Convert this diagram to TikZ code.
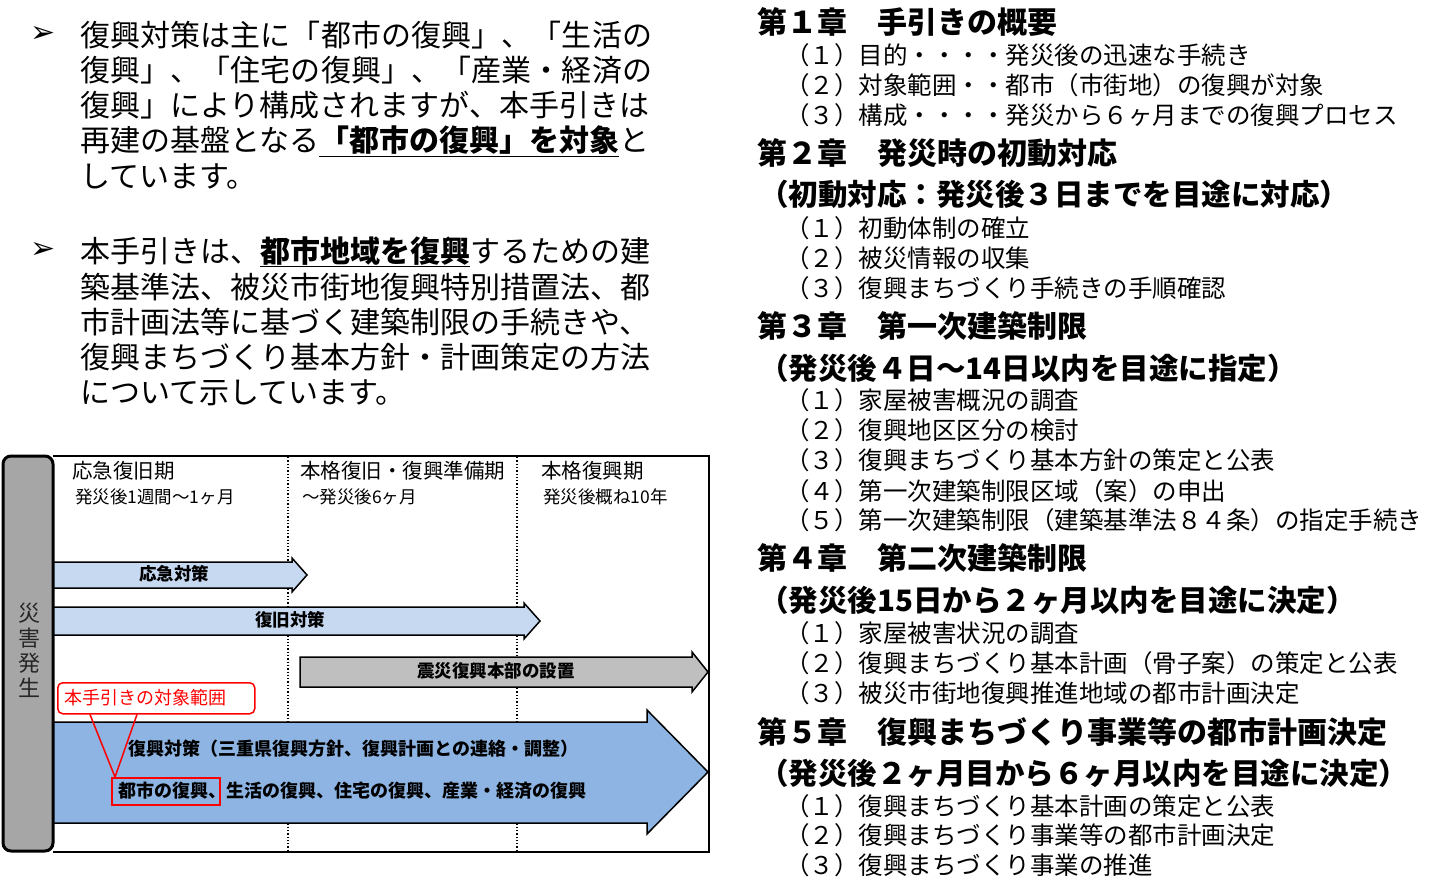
\documentclass[tikz,border=0pt]{standalone}
\usepackage{fontspec}
\setmainfont{Noto Sans CJK JP}
\newfontfamily\symfont{DejaVu Sans}
\usetikzlibrary{calc}
\makeatletter
\newcommand\spreadtxt[2]{\makebox[#1][s]{\def\spsep{}\@tfor\spc:=#2\do{\spsep\spc\def\spsep{\hfil}}}}
\makeatother
\definecolor{lblue}{HTML}{C6D9F1}
\definecolor{mblue}{HTML}{8DB4E2}
\definecolor{garrow}{HTML}{BFBFBF}
\definecolor{gpanel}{HTML}{A6A6A6}
\definecolor{cred}{HTML}{FF0000}
\begin{document}
\begin{tikzpicture}[x=1pt,y=-1pt,
  txt/.style={anchor=west,inner sep=0pt},
  ctxt/.style={inner sep=0pt},
  bul/.style={inner sep=0pt,font=\symfont\fontsize{30pt}{30pt}\selectfont},
  sA/.style={font=\fontsize{30pt}{36pt}\selectfont,text height=26.4pt,text depth=3.6pt},
  sH/.style={font=\fontsize{30pt}{36pt}\selectfont\bfseries,text height=26.4pt,text depth=3.6pt},
  sP/.style={font=\fontsize{29.5pt}{36pt}\selectfont\bfseries,text height=26pt,text depth=3.5pt},
  sI/.style={font=\fontsize{24.5pt}{30pt}\selectfont,text height=21.6pt,text depth=2.9pt},
  sT/.style={font=\fontsize{20.5pt}{24pt}\selectfont,text height=18pt,text depth=2.5pt},
  sS/.style={font=\fontsize{17.5pt}{20pt}\selectfont,text height=15.4pt,text depth=2.1pt},
  sB/.style={font=\fontsize{17.5pt}{20pt}\selectfont\bfseries,text height=15.4pt,text depth=2.1pt},
  sBB/.style={font=\fontsize{18pt}{22pt}\selectfont\bfseries,text height=15.8pt,text depth=2.2pt},
  arr/.style={draw=black,line width=1.5pt,line join=miter},
  redl/.style={draw=cred,line width=1.5pt},
  dots/.style={black,line width=1.3pt,dotted}]
\useasboundingbox (0,0) rectangle (1448,887);

% ---------------- left text ----------------
\node[bul] (b1) at (43,34) {➢};
\node[txt,sA] (p1a) at (80,35) {\spreadtxt{572pt}{復興対策は主に「都市の復興」、「生活の}};
\node[txt,sA] (p1b) at (80,70) {\spreadtxt{572pt}{復興」、「住宅の復興」、「産業・経済の}};
\node[txt,sA] (p1c) at (80,105) {復興」により構成されますが、本手引きは};
\node[txt,sA] (p1d) at (80,140) {再建の基盤となる\textbf{\underline{「都市の復興」を対象}}と};
\node[txt,sA] (p1e) at (80,176) {しています。};

\node[bul] (b2) at (43,250) {➢};
\node[txt,sA] (p2a) at (80,251) {本手引きは、\textbf{\underline{都市地域を復興}}するための建};
\node[txt,sA] (p2b) at (80,287) {築基準法、被災市街地復興特別措置法、都};
\node[txt,sA] (p2c) at (80,322) {市計画法等に基づく建築制限の手続きや、};
\node[txt,sA] (p2d) at (80,357) {復興まちづくり基本方針・計画策定の方法};
\node[txt,sA] (p2e) at (80,392) {について示しています。};

% ---------------- diagram ----------------
\draw[dots] (288,457) -- (288,850);
\draw[dots] (517,457) -- (517,850);

\node[txt,sT] (h1) at (72,471) {応急復旧期};
\node[txt,sS] (s1) at (75,497) {発災後1週間～1ヶ月};
\node[txt,sT] (h2) at (300,471) {本格復旧・復興準備期};
\node[txt,sS] (s2) at (302,497) {～発災後6ヶ月};
\node[txt,sT] (h3) at (541,471) {本格復興期};
\node[txt,sS] (s3) at (543,497) {発災後概ね10年};

% small arrows
\draw[arr,fill=lblue] (48,562) -- (292,562) -- (292,558) -- (307,575) -- (292,592) -- (292,588) -- (48,588) -- cycle;
\node[ctxt,sB] (a1) at (174,574) {応急対策};
\draw[arr,fill=lblue] (48,607) -- (524,607) -- (524,603) -- (540,621) -- (524,639) -- (524,635) -- (48,635) -- cycle;
\node[ctxt,sB] (a2) at (290,620) {復旧対策};
\draw[arr,fill=garrow] (300,657) -- (692,657) -- (692,652) -- (708,672) -- (692,692) -- (692,687) -- (300,687) -- cycle;
\node[ctxt,sB] (a3) at (496,671) {震災復興本部の設置};

% big arrow
\draw[arr,fill=mblue] (48,722) -- (647,722) -- (647,710) -- (708,772) -- (647,834) -- (647,823) -- (48,823) -- cycle;
\node[txt,sBB] (r1) at (128,749) {復興対策（三重県復興方針、復興計画との連絡・調整）};
\node[txt,sBB] (r2) at (118,791) {都市の復興、生活の復興、住宅の復興、産業・経済の復興};
\node[redl,anchor=north west,minimum width=108pt,minimum height=27pt,inner sep=0pt] (tgt) at (111,777) {};

% callout
\node[redl,fill=white,rounded corners=5pt,anchor=north west,text width=183pt,inner xsep=7pt,inner ysep=0pt,minimum height=31pt,align=left,text=cred,sS,font=\fontsize{18pt}{20pt}\selectfont] (callout) at (57,682) {本手引きの対象範囲};
\draw[redl] ($(callout.south west)+(33,0)$) -- ($(tgt.north west)+(4,0)$) -- ($(callout.south west)+(80,0)$);

% left panel
\draw[fill=gpanel,line width=3pt,rounded corners=8pt] (3,456) rectangle (53,851);
\node[ctxt,align=center,font=\fontsize{22pt}{25pt}\selectfont,text=black!85] (disaster) at (29,650) {災\\害\\発\\生};

% frame
\draw[line width=2pt] (53,455.5) -- (709,455.5) -- (709,851.5) -- (53,851.5);

% ---------------- right text ----------------
\node[txt,sH] (c1) at (757,22) {第１章　手引きの概要};
\node[txt,sI] (c1a) at (785,55) {（１）目的・・・・発災後の迅速な手続き};
\node[txt,sI] (c1b) at (785,85) {（２）対象範囲・・都市（市街地）の復興が対象};
\node[txt,sI] (c1c) at (785,115) {（３）構成・・・・発災から６ヶ月までの復興プロセス};

\node[txt,sH] (c2) at (757,153) {第２章　発災時の初動対応};
\node[txt,sP] (c2p) at (759,194) {（初動対応：発災後３日までを目途に対応）};
\node[txt,sI] (c2a) at (785,228) {（１）初動体制の確立};
\node[txt,sI] (c2b) at (785,258) {（２）被災情報の収集};
\node[txt,sI] (c2c) at (785,288) {（３）復興まちづくり手続きの手順確認};

\node[txt,sH] (c3) at (757,326) {第３章　第一次建築制限};
\node[txt,sP] (c3p) at (759,368) {（発災後４日～14日以内を目途に指定）};
\node[txt,sI] (c3a) at (785,400) {（１）家屋被害概況の調査};
\node[txt,sI] (c3b) at (785,430) {（２）復興地区区分の検討};
\node[txt,sI] (c3c) at (785,460) {（３）復興まちづくり基本方針の策定と公表};
\node[txt,sI] (c3d) at (785,491) {（４）第一次建築制限区域（案）の申出};
\node[txt,sI] (c3e) at (785,520) {（５）第一次建築制限（建築基準法８４条）の指定手続き};

\node[txt,sH] (c4) at (757,558) {第４章　第二次建築制限};
\node[txt,sP] (c4p) at (759,600) {（発災後15日から２ヶ月以内を目途に決定）};
\node[txt,sI] (c4a) at (785,633) {（１）家屋被害状況の調査};
\node[txt,sI] (c4b) at (785,663) {（２）復興まちづくり基本計画（骨子案）の策定と公表};
\node[txt,sI] (c4c) at (785,693) {（３）被災市街地復興推進地域の都市計画決定};

\node[txt,sH] (c5) at (757,732) {第５章　復興まちづくり事業等の都市計画決定};
\node[txt,sP] (c5p) at (759,773) {（発災後２ヶ月目から６ヶ月以内を目途に決定）};
\node[txt,sI] (c5a) at (785,806) {（１）復興まちづくり基本計画の策定と公表};
\node[txt,sI] (c5b) at (785,835) {（２）復興まちづくり事業等の都市計画決定};
\node[txt,sI] (c5c) at (785,865) {（３）復興まちづくり事業の推進};
\end{tikzpicture}
\end{document}
